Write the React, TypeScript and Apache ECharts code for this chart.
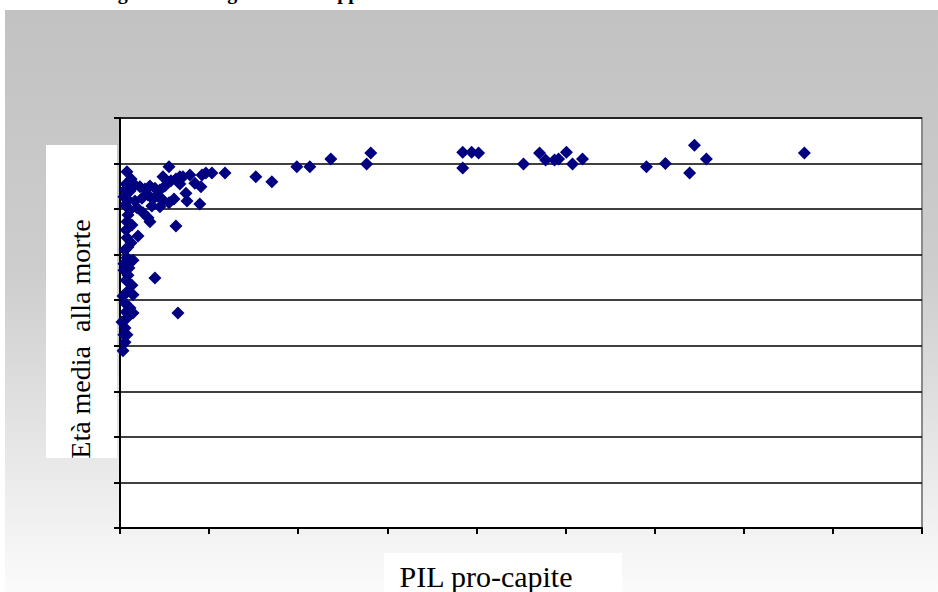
import React, { useEffect, useRef } from "react";
import * as echarts from "echarts";

// GDP per capita (x) and average age at death (y)
const gdp = [
  390, 620, 340, 840, 560, 1120, 1400, 1680, 1960, 2240, 2520, 2750, 2410, 2860, 3140, 3360,
  280, 450, 840, 1230, 1570, 1850, 2130, 2410, 2750, 3030, 2240, 1790, 560, 950, 1290, 1570,
  1680, 390, 670, 3140, 390, 1010, 450, 620, 390, 730, 220, 500, 1960, 450, 670, 340, 390,
  730, 280, 560, 730, 3250, 390, 280, 390, 280, 170, 110, 170, 220,
  3530, 3920, 4600, 4820, 5160, 5890, 4540, 3760, 4480, 3700, 4200, 3360,
  280, 220, 450, 340, 280, 340, 220,
  7620, 8520, 9920, 10650, 11830, 14070, 13840,
  19230, 19730, 20120, 19230, 22640, 23540, 23880, 24380, 24610, 25050, 25390, 25950,
  29540, 30600, 32230, 32900, 31960, 38400,
];
const age = [
  78.2, 76.6, 75.5, 75.3, 74.0, 74.9, 74.4, 75.1, 74.6, 74.2, 75.1, 79.3, 77.1, 76.2, 76.6, 75.5,
  70.9, 72.0, 71.8, 72.4, 73.1, 72.2, 72.9, 72.0, 71.4, 72.2, 70.5, 70.7, 69.8, 70.3, 69.2, 68.1,
  67.2, 67.2, 66.5, 66.3, 63.7, 64.1, 61.7, 62.6, 59.3, 58.8, 58.0, 57.1, 54.9, 55.5, 53.3, 54.4, 51.8,
  51.2, 49.4, 48.3, 47.2, 47.2, 46.1, 43.9, 42.4, 40.8, 38.9, 45.2, 50.9, 56.6,
  77.1, 77.5, 77.5, 77.9, 77.9, 77.9, 74.9, 71.8, 71.1, 73.5, 75.7, 77.1,
  74.2, 72.7, 68.7, 65.4, 61.0, 47.4, 42.4,
  77.1, 76.0, 79.3, 79.3, 81.0, 82.3, 79.9,
  82.5, 82.5, 82.3, 79.0, 79.9, 82.3, 80.8, 80.8, 81.0, 82.5, 79.9, 81.0,
  79.3, 80.0, 84.0, 81.0, 77.9, 82.3,
];

const xTitle = "PIL pro-capite";
const yTitle = "Età media  alla morte";
const topTitle = "Figura 1 – Longevità e sviluppo economico";

export default function App() {
  const ref = useRef<HTMLDivElement>(null);
  useEffect(() => {
    if (!ref.current) return;
    const chart = echarts.init(ref.current, undefined, { renderer: "svg" });
    const points = gdp.map((g, i) => [g, age[i]]);
    chart.setOption({
      animation: false,
      backgroundColor: "#ffffff",
      graphic: [
        {
          type: "rect",
          shape: { x: 5, y: 10, width: 933, height: 582 },
          style: {
            fill: new echarts.graphic.LinearGradient(0, 0, 0, 1, [
              { offset: 0, color: "#c2c2c2" },
              { offset: 0.45, color: "#cdcdcd" },
              { offset: 1, color: "#fbfbfb" },
            ]),
          },
          z: -10,
        },
        {
          type: "text",
          x: 100,
          y: -18,
          style: { text: topTitle, font: "bold 20px 'Liberation Serif', serif", fill: "#000" },
          z: -5,
        },
        {
          type: "rect",
          shape: { x: 46, y: 145, width: 71, height: 313 },
          style: { fill: "#ffffff" },
          z: -5,
        },
        {
          type: "text",
          x: 80,
          y: 339,
          rotation: Math.PI / 2,
          style: {
            text: yTitle,
            font: "28px 'Liberation Serif', serif",
            fill: "#000",
            align: "center",
            verticalAlign: "middle",
          },
          z: 5,
        },
        {
          type: "rect",
          shape: { x: 384, y: 553, width: 238, height: 39 },
          style: { fill: "#ffffff" },
          z: -5,
        },
        {
          type: "text",
          x: 486,
          y: 576,
          style: {
            text: xTitle,
            font: "30px 'Liberation Serif', serif",
            fill: "#000",
            align: "center",
            verticalAlign: "middle",
          },
          z: 5,
        },
      ],
      grid: {
        left: 120,
        right: 16,
        top: 118,
        bottom: 64,
        show: true,
        backgroundColor: "#ffffff",
        borderColor: "#8a8a8a",
        borderWidth: 2,
        containLabel: false,
        outerBoundsMode: "none",
      },
      xAxis: {
        type: "value",
        min: 0,
        max: 45000,
        interval: 5000,
        axisLine: { show: true, onZero: false, lineStyle: { color: "#000", width: 2 } },
        axisTick: { show: true, inside: false, length: 6, lineStyle: { color: "#000", width: 2 } },
        axisLabel: { show: false },
        splitLine: { show: false },
      },
      yAxis: {
        type: "value",
        min: 0,
        max: 90,
        interval: 10,
        axisLine: { show: true, onZero: false, lineStyle: { color: "#000", width: 2 } },
        axisTick: { show: true, inside: false, length: 6, lineStyle: { color: "#000", width: 2 } },
        axisLabel: { show: false },
        splitLine: { show: true, lineStyle: { color: "#000", width: 1.5 } },
      },
      series: [
        {
          type: "scatter",
          symbol: "diamond",
          symbolSize: 13,
          itemStyle: { color: "#000080", opacity: 1 },
          data: points,
        },
      ],
    });
    return () => chart.dispose();
  }, []);
  return (
    <div
      ref={ref}
      style={{ position: "fixed", left: 0, top: 0, width: 938, height: 592 }}
    />
  );
}
